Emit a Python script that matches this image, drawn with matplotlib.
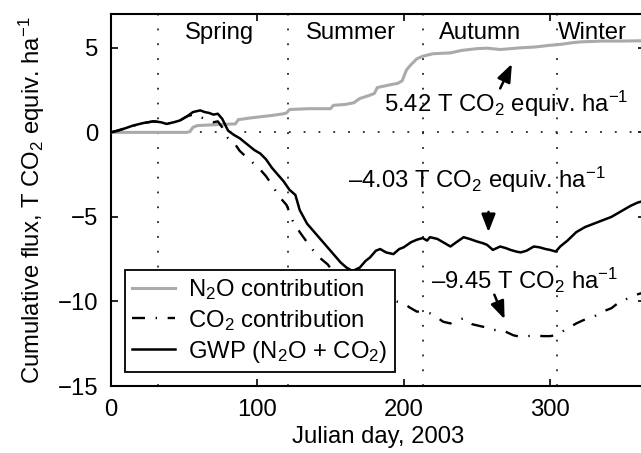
import matplotlib
matplotlib.use("Agg")
import matplotlib.pyplot as plt

plt.rcParams['font.family'] = ['Liberation Sans', 'DejaVu Sans']
plt.rcParams['mathtext.fontset'] = 'custom'
plt.rcParams['mathtext.rm'] = 'Liberation Sans'
plt.rcParams['mathtext.it'] = 'Liberation Sans:italic'
plt.rcParams['mathtext.bf'] = 'Liberation Sans:bold'

# data (Julian day, cumulative flux)
n2o_day = [0, 52, 54, 56, 59, 70, 85, 87, 95, 110, 118, 120, 122, 135, 150, 152,
           160, 166, 170, 177, 180, 182, 190, 196, 199, 202, 205, 209, 213, 220,
           232, 240, 250, 257, 266, 280, 290, 300, 307, 315, 321, 336, 350, 365]
n2o_val = [0, 0, 0.05, 0.3, 0.4, 0.45, 0.5, 0.75, 0.85, 1.0, 1.1, 1.15, 1.35, 1.4, 1.4, 1.6,
           1.65, 1.75, 2.0, 2.2, 2.3, 2.65, 2.8, 2.9, 3.05, 3.7, 4.0, 4.35, 4.5, 4.65,
           4.7, 4.85, 4.95, 4.98, 4.9, 5.0, 5.05, 5.15, 5.2, 5.3, 5.35, 5.4, 5.4, 5.42]

co2_day = [0, 10, 22, 29, 34, 38, 47, 52, 56, 59, 61, 66, 70, 73, 76, 80, 84, 88, 93, 97,
           100, 106, 110, 115, 120, 124, 129, 134, 141, 148, 155, 162, 170, 177, 184, 190,
           195, 200, 204, 209, 214, 218, 223, 227, 232, 237, 241, 247, 252, 257, 261, 266,
           270, 275, 280, 285, 290, 295, 300, 304, 307, 312, 318, 323, 330, 336, 342, 348,
           354, 359, 365]
co2_val = [0, 0.25, 0.55, 0.65, 0.6, 0.5, 0.7, 0.95, 1.05, 0.9, 0.9, 0.75, 0.6, 0.65, 0.3,
           -0.35, -0.6, -1.1, -1.5, -1.8, -2.0, -2.6, -3.1, -3.8, -4.3, -5.2, -5.9, -6.5,
           -7.3, -7.8, -8.6, -9.3, -9.8, -9.7, -9.6, -9.9, -10.0, -10.1, -10.35, -10.6,
           -10.6, -10.7, -10.95, -11.2, -11.3, -11.1, -11.0, -11.35, -11.45, -11.55, -11.7,
           -11.65, -11.8, -12.0, -12.1, -12.05, -12.0, -12.05, -12.05, -12.0, -11.85, -11.6,
           -11.3, -11.1, -10.9, -10.6, -10.4, -10.0, -9.8, -9.6, -9.45]

gwp_day = [0, 5, 10, 15, 22, 29, 34, 38, 43, 47, 52, 56, 61, 64, 67, 70, 73, 76, 80, 84,
           88, 93, 98, 102, 106, 110, 113, 118, 122, 126, 129, 134, 140, 144, 148, 153, 157,
           161, 165, 170, 174, 177, 181, 184, 188, 193, 197, 200, 205, 209, 213, 216, 218,
           223, 227, 232, 236, 241, 245, 250, 254, 257, 261, 266, 270, 273, 277, 280, 284,
           289, 293, 297, 300, 304, 307, 312, 318, 324, 330, 336, 342, 347, 350, 355, 360, 365]
gwp_val = [0, 0.1, 0.25, 0.4, 0.55, 0.65, 0.6, 0.5, 0.6, 0.7, 0.95, 1.2, 1.3, 1.2, 1.15,
           1.05, 1.1, 0.8, 0.1, -0.15, -0.35, -0.7, -1.05, -1.25, -1.6, -2.1, -2.4, -2.9,
           -3.4, -3.7, -4.6, -5.4, -6.0, -6.4, -6.8, -7.3, -7.7, -8.0, -8.2, -8.0, -7.6,
           -7.4, -7.0, -6.9, -7.1, -7.2, -6.9, -6.8, -6.5, -6.35, -6.25, -6.4, -6.2, -6.3,
           -6.5, -6.75, -6.5, -6.2, -6.3, -6.45, -6.55, -6.65, -6.95, -6.75, -6.85, -6.95,
           -7.05, -7.1, -7.0, -6.75, -6.8, -6.9, -6.95, -7.05, -6.75, -6.4, -5.9, -5.6,
           -5.4, -5.2, -5.0, -4.75, -4.6, -4.35, -4.15, -4.03]

season_bounds = [32, 121, 213, 305]
season_names = ['Spring', 'Summer', 'Autumn', 'Winter']
season_x = [74, 164, 252, 329]

fs = 17.2
fig = plt.figure(figsize=(6.41, 4.53), dpi=100)
ax = fig.add_axes([0.1732, 0.1479, 0.8331, 0.8212])

dot = (0, (1.2, 8.5))
for b in season_bounds:
    ax.axvline(b, color='black', lw=1.1, linestyle=dot, zorder=1)
ax.axhline(0, color='black', lw=1.1, linestyle=dot, zorder=1)

ax.plot(n2o_day, n2o_val, color='#aaaaaa', lw=2.2, label=r'N$_2$O contribution', zorder=3)
ax.plot(co2_day, co2_val, color='black', lw=1.7, linestyle=(0, (5.5, 4.5, 0.6, 4.5)),
        label=r'CO$_2$ contribution', zorder=3)
ax.plot(gwp_day, gwp_val, color='black', lw=1.8, label=r'GWP (N$_2$O + CO$_2$)', zorder=4)

for name, x in zip(season_names, season_x):
    ax.text(x, 5.9, name, ha='center', va='center', fontsize=fs)

arrow = dict(arrowstyle='-|>,head_length=0.9,head_width=0.35', color='black',
             lw=1.8, mutation_scale=12, shrinkA=0, shrinkB=0)
ax.annotate('', xy=(274, 4.05), xytext=(266, 2.6), arrowprops=arrow)
ax.text(270, 1.7, r'5.42 T CO$_2$ equiv. ha$^{-1}$', ha='center', va='center', fontsize=fs)
ax.annotate('', xy=(258, -5.9), xytext=(258, -4.7), arrowprops=arrow)
ax.text(250, -2.8, '\u2013' + r'4.03 T CO$_2$ equiv. ha$^{-1}$', ha='center', va='center', fontsize=fs)
ax.annotate('', xy=(269, -11.05), xytext=(262, -9.6), arrowprops=arrow)
ax.text(283, -8.75, '\u2013' + r'9.45 T CO$_2$ ha$^{-1}$', ha='center', va='center', fontsize=fs)

ax.set_xlim(0, 365)
ax.set_ylim(-15, 7)
ax.set_xticks([0, 100, 200, 300])
ax.set_yticks([-15, -10, -5, 0, 5])
ax.tick_params(direction='in', length=5, width=1.2, top=True, right=True,
               labelsize=fs, pad=9)
for s in ax.spines.values():
    s.set_linewidth(1.5)

ax.set_xlabel('Julian day, 2003', fontsize=fs, labelpad=4)
ax.set_ylabel(r'Cumulative flux, T CO$_2$ equiv. ha$^{-1}$', fontsize=fs, labelpad=8)

leg = ax.legend(loc='lower left', bbox_to_anchor=(0.026, 0.038), borderaxespad=0,
                fontsize=fs, fancybox=False, framealpha=1, edgecolor='black',
                handlelength=1.8, handletextpad=0.55, borderpad=0.3, labelspacing=0.25)
leg.get_frame().set_linewidth(1.3)
leg.set_zorder(10)

fig.savefig('out.png', dpi=100)
